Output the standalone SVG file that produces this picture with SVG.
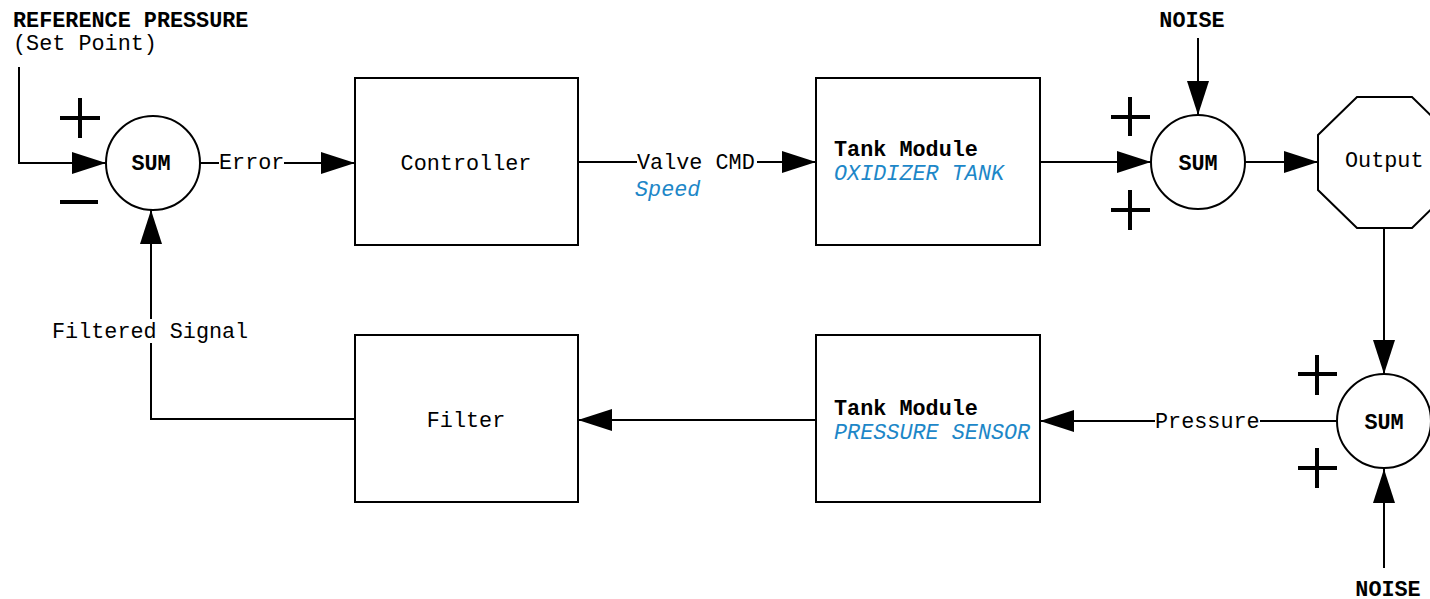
<svg xmlns="http://www.w3.org/2000/svg" width="1430" height="599" viewBox="0 0 1430 599">
  <style>
    .box { fill: #ffffff; stroke: #000000; stroke-width: 2; }
    .wire { fill: none; stroke: #000000; stroke-width: 2; }
    .sign { fill: none; stroke: #000000; stroke-width: 4; }
    .t { font-family: "Liberation Mono", "DejaVu Sans Mono", monospace; font-size: 21.8px; fill: #000000; }
    .b { font-weight: bold; }
    .blue { fill: #1d87c8; font-style: italic; }
    .mid { text-anchor: middle; }
    .bg { fill: #ffffff; }
  </style>
  <defs>
    <marker id="arrow" markerUnits="userSpaceOnUse" markerWidth="34" markerHeight="22" refX="34" refY="11" orient="auto">
      <path d="M0,0 L34,11 L0,22 z" fill="#000000"/>
    </marker>
  </defs>

  <!-- connectors -->
  <g id="connectors">
    <path class="wire" d="M19,67 V163 H106" marker-end="url(#arrow)"/>
    <path class="wire" d="M200,163 H355" marker-end="url(#arrow)"/>
    <path class="wire" d="M578,162 H816" marker-end="url(#arrow)"/>
    <path class="wire" d="M1040,162 H1151" marker-end="url(#arrow)"/>
    <path class="wire" d="M1198,38 V115" marker-end="url(#arrow)"/>
    <path class="wire" d="M1245,162 H1318" marker-end="url(#arrow)"/>
    <path class="wire" d="M1384,228 V374" marker-end="url(#arrow)"/>
    <path class="wire" d="M1384,568 V469" marker-end="url(#arrow)"/>
    <path class="wire" d="M1337,421 H1040" marker-end="url(#arrow)"/>
    <path class="wire" d="M816,420 H578" marker-end="url(#arrow)"/>
    <path class="wire" d="M355,419 H151 V210" marker-end="url(#arrow)"/>

    <!-- edge labels -->
    <rect class="bg" x="219" y="150" width="65" height="24"/>
    <text class="t" x="219" y="169">Error</text>
    <rect class="bg" x="637" y="150" width="120" height="24"/>
    <text class="t" x="637" y="169">Valve CMD</text>
    <text class="t blue" x="635" y="196">Speed</text>
    <rect class="bg" x="1155" y="409" width="105" height="24"/>
    <text class="t" x="1155" y="428">Pressure</text>
    <rect class="bg" x="52" y="319" width="197" height="24"/>
    <text class="t" x="52" y="338">Filtered Signal</text>
  </g>

  <!-- inputs -->
  <g id="reference">
    <text class="t b" x="13" y="27">REFERENCE PRESSURE</text>
    <text class="t" x="13" y="50">(Set Point)</text>
  </g>
  <g id="noise-top">
    <text class="t b mid" x="1192" y="27">NOISE</text>
  </g>
  <g id="noise-bottom">
    <text class="t b mid" x="1388" y="596">NOISE</text>
  </g>

  <!-- summing junctions -->
  <g id="sum-error">
    <circle class="box" cx="153" cy="163" r="47"/>
    <text class="t b mid" x="151" y="170">SUM</text>
    <path class="sign" d="M60,118 H100 M80,98 V138"/>
    <path class="sign" d="M60,202 H98"/>
  </g>
  <g id="sum-process">
    <circle class="box" cx="1198" cy="162" r="47"/>
    <text class="t b mid" x="1198" y="170">SUM</text>
    <path class="sign" d="M1111,117 H1150 M1130,97 V136"/>
    <path class="sign" d="M1111,210 H1150 M1130,190 V230"/>
  </g>
  <g id="sum-sensor">
    <circle class="box" cx="1384" cy="421" r="47"/>
    <text class="t b mid" x="1384" y="429">SUM</text>
    <path class="sign" d="M1298,374 H1337 M1317,355 V395"/>
    <path class="sign" d="M1298,468 H1337 M1317,448 V488"/>
  </g>

  <!-- blocks -->
  <g id="controller">
    <rect class="box" x="355" y="78" width="223" height="167"/>
    <text class="t mid" x="466" y="170">Controller</text>
  </g>
  <g id="oxidizer-tank">
    <rect class="box" x="816" y="78" width="224" height="167"/>
    <text class="t b" x="834" y="156">Tank Module</text>
    <text class="t blue" x="834" y="180">OXIDIZER TANK</text>
  </g>
  <g id="output">
    <polygon class="box" points="1357,97 1412,97 1451,135 1451,190 1412,228 1357,228 1318,190 1318,135"/>
    <text class="t" x="1345" y="167">Output</text>
  </g>
  <g id="pressure-sensor">
    <rect class="box" x="816" y="335" width="224" height="167"/>
    <text class="t b" x="834" y="415">Tank Module</text>
    <text class="t blue" x="834" y="439">PRESSURE SENSOR</text>
  </g>
  <g id="filter">
    <rect class="box" x="355" y="335" width="223" height="167"/>
    <text class="t mid" x="466" y="427">Filter</text>
  </g>
</svg>
